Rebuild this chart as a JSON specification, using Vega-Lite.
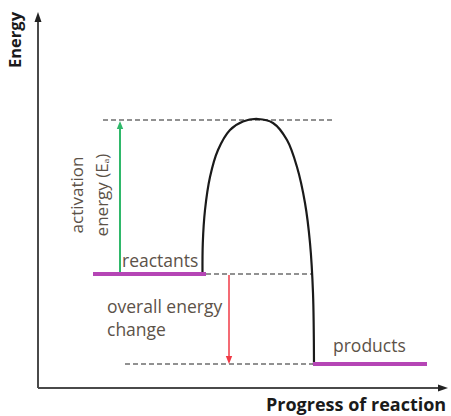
{
  "$schema": "https://vega.github.io/schema/vega-lite/v6.json",
  "width": 451,
  "height": 416,
  "padding": 0,
  "autosize": {"type": "fit", "contains": "padding"},
  "config": {"view": {"stroke": null}},
  "datasets": {
    "axes": [
      {"x": 0, "y": 0, "x2": 0, "y2": 369},
      {"x": 0, "y": 0, "x2": 403, "y2": 0}
    ],
    "guides": [
      {"x": 65, "y": 268, "x2": 295, "y2": 268},
      {"x": 168, "y": 114, "x2": 275, "y2": 114},
      {"x": 87, "y": 24, "x2": 275, "y2": 24}
    ],
    "levels": [
      {"x": 55, "y": 114, "x2": 168, "y2": 114},
      {"x": 275, "y": 24, "x2": 389, "y2": 24}
    ],
    "green": [{"x": 82, "y": 114, "x2": 82, "y2": 261}],
    "red": [{"x": 191, "y": 113, "x2": 191, "y2": 31}],
    "curve": [
      {"i": 0, "x": 164.5, "y": 114},
      {"i": 1, "x": 164.8, "y": 145},
      {"i": 2, "x": 167, "y": 178},
      {"i": 3, "x": 172, "y": 211},
      {"i": 4, "x": 180, "y": 238},
      {"i": 5, "x": 192, "y": 258},
      {"i": 6, "x": 205, "y": 266.5},
      {"i": 7, "x": 220, "y": 269},
      {"i": 8, "x": 235, "y": 265},
      {"i": 9, "x": 249, "y": 248},
      {"i": 10, "x": 259, "y": 221},
      {"i": 11, "x": 267, "y": 185},
      {"i": 12, "x": 272, "y": 145},
      {"i": 13, "x": 275, "y": 95},
      {"i": 14, "x": 276, "y": 23}
    ],
    "labels": [
      {"text": "reactants", "x": 84, "y": 121},
      {"text": "products", "x": 295, "y": 36},
      {"text": "overall energy", "x": 69, "y": 75},
      {"text": "change", "x": 69, "y": 52}
    ],
    "vlabels": [
      {"text": "activation", "x": 40, "y": 193},
      {"text": "energy (Eₐ)", "x": 65, "y": 193}
    ]
  },
  "encoding": {
    "x": {"type": "quantitative", "scale": {"domain": [-38, 413], "nice": false, "zero": false}, "axis": null},
    "y": {"type": "quantitative", "scale": {"domain": [-28, 388], "nice": false, "zero": false}, "axis": null}
  },
  "layer": [
    {
      "data": {"name": "guides"},
      "mark": {"type": "rule", "color": "#6e6e6e", "strokeWidth": 1.5, "strokeDash": [5, 3]},
      "encoding": {"x": {"field": "x"}, "y": {"field": "y"}, "x2": {"field": "x2"}, "y2": {"field": "y2"}}
    },
    {
      "data": {"name": "axes"},
      "mark": {"type": "rule", "color": "#4a4a4a", "strokeWidth": 2},
      "encoding": {"x": {"field": "x"}, "y": {"field": "y"}, "x2": {"field": "x2"}, "y2": {"field": "y2"}}
    },
    {
      "data": {"values": [{"x": 0, "y": 371}]},
      "mark": {"type": "point", "shape": "M0,-1L0.7,1L-0.7,1Z", "filled": true, "opacity": 1, "color": "#222222", "size": 100},
      "encoding": {"x": {"field": "x"}, "y": {"field": "y"}}
    },
    {
      "data": {"values": [{"x": 405, "y": 0}]},
      "mark": {"type": "point", "shape": "M1,0L-1,0.7L-1,-0.7Z", "filled": true, "opacity": 1, "color": "#222222", "size": 100},
      "encoding": {"x": {"field": "x"}, "y": {"field": "y"}}
    },
    {
      "data": {"name": "green"},
      "mark": {"type": "rule", "color": "#2fb86a", "strokeWidth": 2},
      "encoding": {"x": {"field": "x"}, "y": {"field": "y"}, "x2": {"field": "x2"}, "y2": {"field": "y2"}}
    },
    {
      "data": {"values": [{"x": 82, "y": 263}]},
      "mark": {"type": "point", "shape": "M0,-1L0.8,1L-0.8,1Z", "filled": true, "opacity": 1, "color": "#2fb86a", "size": 64},
      "encoding": {"x": {"field": "x"}, "y": {"field": "y"}}
    },
    {
      "data": {"name": "red"},
      "mark": {"type": "rule", "color": "#f03a46", "strokeWidth": 1.5},
      "encoding": {"x": {"field": "x"}, "y": {"field": "y"}, "x2": {"field": "x2"}, "y2": {"field": "y2"}}
    },
    {
      "data": {"values": [{"x": 191, "y": 28}]},
      "mark": {"type": "point", "shape": "M0,1L0.8,-1L-0.8,-1Z", "filled": true, "opacity": 1, "color": "#f03a46", "size": 64},
      "encoding": {"x": {"field": "x"}, "y": {"field": "y"}}
    },
    {
      "data": {"name": "curve"},
      "mark": {"type": "line", "color": "#1a1a1a", "strokeWidth": 2.2, "interpolate": "catmull-rom"},
      "encoding": {"x": {"field": "x"}, "y": {"field": "y"}, "order": {"field": "i", "type": "quantitative"}}
    },
    {
      "data": {"name": "levels"},
      "mark": {"type": "rule", "color": "#b545b5", "strokeWidth": 4},
      "encoding": {"x": {"field": "x"}, "y": {"field": "y"}, "x2": {"field": "x2"}, "y2": {"field": "y2"}}
    },
    {
      "data": {"name": "labels"},
      "mark": {"type": "text", "align": "left", "baseline": "alphabetic", "font": "Open Sans", "fontSize": 17.5, "color": "#5c5248"},
      "encoding": {"x": {"field": "x"}, "y": {"field": "y"}, "text": {"field": "text"}}
    },
    {
      "data": {"name": "vlabels"},
      "mark": {"type": "text", "align": "center", "baseline": "middle", "angle": 270, "font": "Open Sans", "fontSize": 17, "color": "#5c5248"},
      "encoding": {"x": {"field": "x"}, "y": {"field": "y"}, "text": {"field": "text"}}
    },
    {
      "data": {"values": [{"text": "Energy", "x": -22, "y": 348}]},
      "mark": {"type": "text", "align": "center", "baseline": "middle", "angle": 270, "font": "Open Sans", "fontSize": 16.5, "fontWeight": "bold", "color": "#1a1a1a"},
      "encoding": {"x": {"field": "x"}, "y": {"field": "y"}, "text": {"field": "text"}}
    },
    {
      "data": {"values": [{"text": "Progress of reaction", "x": 228, "y": -23}]},
      "mark": {"type": "text", "align": "left", "baseline": "alphabetic", "font": "Open Sans", "fontSize": 18, "fontWeight": "bold", "color": "#1a1a1a"},
      "encoding": {"x": {"field": "x"}, "y": {"field": "y"}, "text": {"field": "text"}}
    }
  ]
}
